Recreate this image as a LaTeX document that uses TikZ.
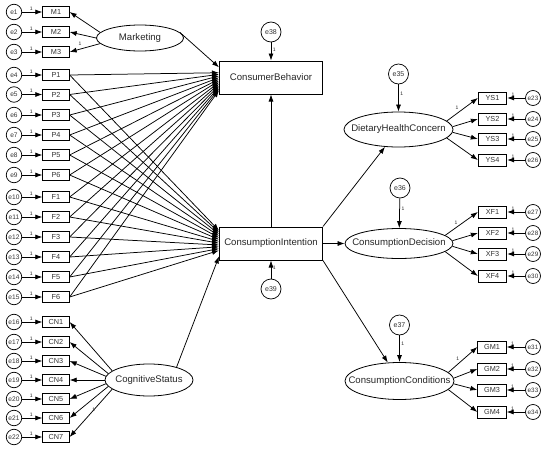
\documentclass[tikz,border=0pt]{standalone}
\usepackage{fontspec}
\setmainfont{Liberation Sans}
\usetikzlibrary{arrows.meta,calc,shapes.geometric}
\begin{document}
\begin{tikzpicture}[x=1pt,y=-1pt,line width=0.75pt,
  arr/.style={draw=black,-{Latex[length=7pt,width=5pt]}},
  ind/.style={draw=black,line width=0.8pt,minimum width=26.5pt,minimum height=11pt,inner sep=0pt,
    font=\fontsize{7.3}{8}\selectfont,text=black!80},
  indr/.style={ind,minimum width=28.5pt,minimum height=12pt},
  err/.style={draw=black,circle,line width=0.7pt,minimum size=15.5pt,inner sep=0pt,
    font=\fontsize{6.6}{7}\selectfont,text=black!80},
  errr/.style={err,minimum size=15pt,font=\fontsize{6.3}{7}\selectfont},
  errs/.style={err,minimum size=20pt,font=\fontsize{7}{8}\selectfont},
  lat/.style={draw=black,ellipse,line width=0.8pt,inner sep=0pt},
  lattext/.style={font=\fontsize{9.6}{11}\selectfont,text=black!85},
  obs/.style={draw=black,line width=1pt,minimum width=103pt,minimum height=33pt,inner sep=0pt,
    font=\fontsize{9.6}{11}\selectfont,text=black!85},
  one/.style={font=\fontsize{5}{5}\selectfont,inner sep=0.6pt,text=black!85}]
\useasboundingbox (0,0) rectangle (550,450);

% ---- left indicators and their errors
\foreach \n/\lab/\y in {1/M1/12,2/M2/32,3/M3/52,4/P1/75,5/P2/94.5,6/P3/115,7/P4/135,8/P5/155,9/P6/175,
  10/F1/197,11/F2/217,12/F3/237,13/F4/257,14/F5/277,15/F6/297,
  16/CN1/322,17/CN2/342,18/CN3/361,19/CN4/380,20/CN5/399,21/CN6/418,22/CN7/437}{
  \node[err] (e\n) at (14,\y) {e\n};
  \node[ind] (\lab) at (56,\y) {\lab};
  \draw[arr] (e\n) -- node[one,above=1pt,pos=0.45]{1} (\lab);
}

% ---- latent variables on the left
\node[lat,minimum width=87pt,minimum height=26pt,label={[lattext]center:Marketing}] (mkt) at (140,38) {};
\node[lat,minimum width=88pt,minimum height=32pt,label={[lattext]center:CognitiveStatus}] (cs) at (149,380) {};

\draw[arr] (mkt.172) -- (M1.east);
\draw[arr] (mkt.180) -- (M2.east);
\draw[arr] (mkt.188) -- node[one,pos=0.66,above=2.5pt]{1} (M3.east);

\foreach \k/\a in {1/166,2/171,3/175,4/180,5/185,6/189,7/194}{
  \draw[arr] (cs.\a) -- (CN\k.east);
}
\path (cs.194) -- node[one,pos=0.5,above right=0.5pt]{1} (CN7.east);

% ---- central observed variables
\node[obs] (cb) at (271,77.5) {ConsumerBehavior};
\node[obs] (ci) at (271,243.5) {ConsumptionIntention};
\node[errs] (e38) at (271,32) {e38};
\node[errs] (e39) at (271,289) {e39};
\draw[arr] (e38) -- node[one,right=1pt,pos=0.4]{1} (cb.north);
\draw[arr] (e39) -- node[one,right=1pt,pos=0.6]{1} (ci.south);
\draw[arr] (ci.north) -- (cb.south);

\draw[arr] (mkt.8) -- ($(cb.north west)!0.2!(cb.south west)$);
\draw[arr] (cs.25) -- ($(ci.north west)!0.88!(ci.south west)$);

\foreach \lab [count=\i] in {P1,P2,P3,P4,P5,P6,F1,F2,F3,F4,F5,F6}{
  \pgfmathsetmacro{\fa}{0.36+0.047*(\i-1)}
  \pgfmathsetmacro{\fb}{0.12+0.053*(\i-1)}
  \draw[arr] (\lab.east) -- ($(cb.north west)!\fa!(cb.south west)$);
  \draw[arr] (\lab.east) -- ($(ci.north west)!\fb!(ci.south west)$);
}

% ---- right latent variables
\node[lat,minimum width=109pt,minimum height=35pt,label={[lattext]center:DietaryHealthConcern}] (dhc) at (398.5,129.5) {};
\node[lat,minimum width=108pt,minimum height=30pt,label={[lattext]center:ConsumptionDecision}] (cd) at (399,243.5) {};
\node[lat,minimum width=109pt,minimum height=37pt,label={[lattext]center:ConsumptionConditions}] (cc) at (399.5,381) {};

\node[errs] (e35) at (398.5,74) {e35};
\node[errs] (e36) at (400,188) {e36};
\node[errs] (e37) at (399.5,325) {e37};
\draw[arr] (e35) -- node[one,right=1pt,pos=0.35]{1} (dhc);
\draw[arr] (e36) -- node[one,right=1pt,pos=0.35]{1} (cd);
\draw[arr] (e37) -- node[one,right=1pt,pos=0.3]{1} (cc);

\draw[arr] (ci.north east) -- (dhc);
\draw[arr] (ci.east) -- (cd.west);
\draw[arr] (ci.south east) -- (cc);

% ---- right indicators
\foreach \k/\y/\a in {1/98/10,2/119/3,3/139/-3,4/160/-10}{
  \pgfmathtruncatemacro{\en}{22+\k}
  \node[indr] (YS\k) at (492.5,\y) {YS\k};
  \node[errr] (e\en) at (533,\y) {e\en};
  \draw[arr] (e\en) -- node[one,above=1pt,pos=0.68]{1} (YS\k);
  \draw[arr] (dhc.\a) -- (YS\k.west);
}
\path (dhc.10) -- node[one,pos=0.42,above left=0.5pt]{1} (YS1.west);

\foreach \k/\y/\a in {1/212/10,2/233/3,3/254/-3,4/276/-10}{
  \pgfmathtruncatemacro{\en}{26+\k}
  \node[indr] (XF\k) at (492.5,\y) {XF\k};
  \node[errr] (e\en) at (533,\y) {e\en};
  \draw[arr] (e\en) -- node[one,above=1pt,pos=0.68]{1} (XF\k);
  \draw[arr] (cd.\a) -- (XF\k.west);
}
\path (cd.10) -- node[one,pos=0.42,above left=0.5pt]{1} (XF1.west);

\foreach \k/\y/\a in {1/347/10,2/369/3,3/390/-3,4/412/-10}{
  \pgfmathtruncatemacro{\en}{30+\k}
  \node[indr] (GM\k) at (492,\y) {GM\k};
  \node[errr] (e\en) at (533,\y) {e\en};
  \draw[arr] (e\en) -- node[one,above=1pt,pos=0.68]{1} (GM\k);
  \draw[arr] (cc.\a) -- (GM\k.west);
}
\path (cc.10) -- node[one,pos=0.42,above left=0.5pt]{1} (GM1.west);
\end{tikzpicture}
\end{document}
